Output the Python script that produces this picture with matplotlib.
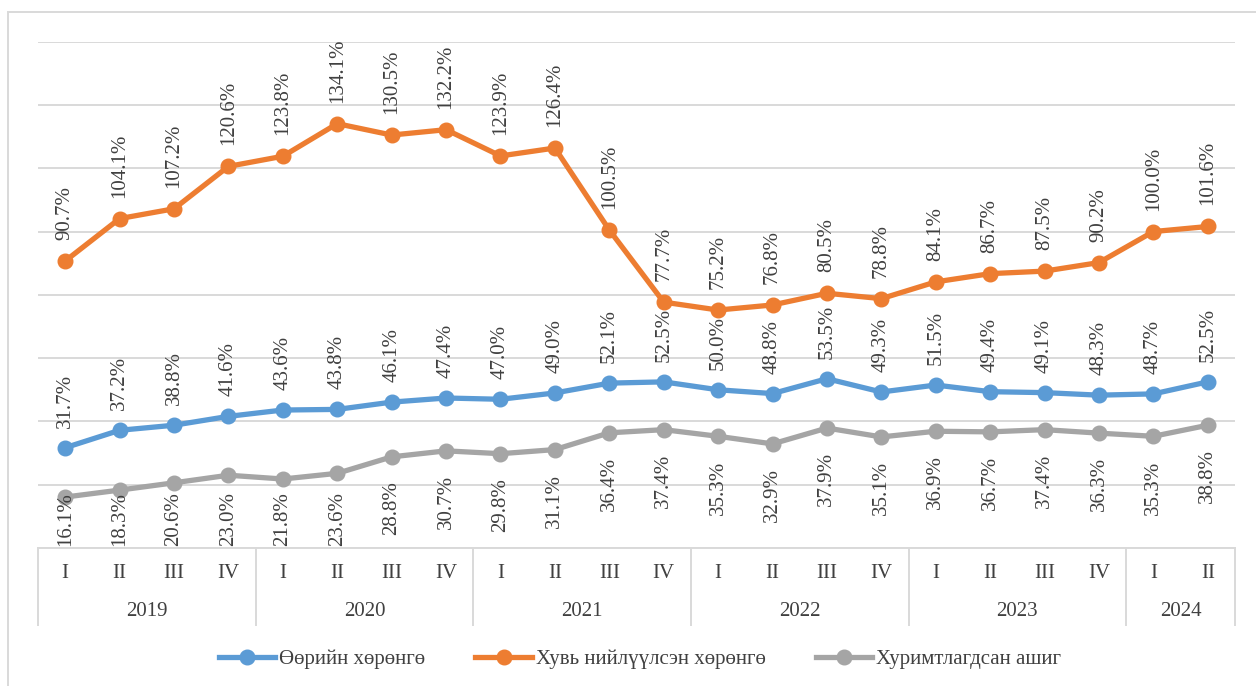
import matplotlib
matplotlib.use("Agg")
import matplotlib.pyplot as plt
from matplotlib.lines import Line2D
from matplotlib.patches import Rectangle

plt.rcParams['font.family'] = ['Liberation Serif', 'DejaVu Serif']

years = ['2019', '2020', '2021', '2022', '2023', '2024']
year_quarters = [4, 4, 4, 4, 4, 2]
quarter_names = ['I', 'II', 'III', 'IV']
quarters = [q for n in year_quarters for q in quarter_names[:n]]

own_capital = [31.7, 37.2, 38.8, 41.6, 43.6, 43.8, 46.1, 47.4, 47.0, 49.0, 52.1,
               52.5, 50.0, 48.8, 53.5, 49.3, 51.5, 49.4, 49.1, 48.3, 48.7, 52.5]
paid_in = [90.7, 104.1, 107.2, 120.6, 123.8, 134.1, 130.5, 132.2, 123.9, 126.4, 100.5,
           77.7, 75.2, 76.8, 80.5, 78.8, 84.1, 86.7, 87.5, 90.2, 100.0, 101.6]
retained = [16.1, 18.3, 20.6, 23.0, 21.8, 23.6, 28.8, 30.7, 29.8, 31.1, 36.4,
            37.4, 35.3, 32.9, 37.9, 35.1, 36.9, 36.7, 37.4, 36.3, 35.3, 38.8]

series_names = ['Өөрийн хөрөнгө', 'Хувь нийлүүлсэн хөрөнгө', 'Хуримтлагдсан ашиг']
colors = ['#5B9BD5', '#ED7D31', '#A5A5A5']
text_color = '#404040'
grid_color = '#D9D9D9'

W, H = 1256, 686
fig = plt.figure(figsize=(W / 100, H / 100), dpi=100)
ax_left, ax_right, ax_top, ax_bot = 38, 1235, 41.7, 548
ax = fig.add_axes([ax_left / W, 1 - ax_bot / H, (ax_right - ax_left) / W, (ax_bot - ax_top) / H])

n = len(quarters)
x = list(range(n))
ax.set_xlim(-0.5, n - 0.5)
ax.set_ylim(0, 160)
ax.set_yticks(range(0, 161, 20))
ax.grid(axis='y', color=grid_color, linewidth=1.4)
ax.set_axisbelow(True)
for s in ax.spines.values():
    s.set_visible(False)
ax.tick_params(left=False, bottom=False, labelleft=False, labelbottom=False)

px_per_unit = (ax_bot - ax_top) / 160.0
label_fs = 15
lab_len_units = 56 / px_per_unit

for vals, col in zip([own_capital, paid_in, retained], colors):
    ax.plot(x, vals, color=col, linewidth=3.8, marker='o', markersize=10.5,
            solid_capstyle='round', zorder=3)

for xi, v in zip(x, paid_in):
    ax.text(xi, v + 21 / px_per_unit, f'{v:.1f}%', rotation=90, ha='center', va='bottom',
            fontsize=label_fs, color=text_color, clip_on=False)
for xi, v in zip(x, own_capital):
    ax.text(xi, v + 20 / px_per_unit, f'{v:.1f}%', rotation=90, ha='center', va='bottom',
            fontsize=label_fs, color=text_color)
for xi, v in zip(x, retained):
    top = max(v - 24 / px_per_unit, lab_len_units)
    ax.text(xi, top, f'{v:.1f}%', rotation=90, ha='center', va='top',
            fontsize=label_fs, color=text_color)

# category axis (two levels)
trans = ax.get_xaxis_transform()
ax_h = ax_bot - ax_top
ax.plot([-0.5, n - 0.5], [0, 0], transform=trans, color=grid_color, linewidth=1.4, clip_on=False)
bounds = [-0.5]
for cnt in year_quarters:
    bounds.append(bounds[-1] + cnt)
line_bottom = -(625 - ax_bot) / ax_h
for b in bounds:
    ax.plot([b, b], [0, line_bottom], transform=trans, color=grid_color, linewidth=1.4, clip_on=False)
q_y = -(573 - ax_bot) / ax_h
for xi, q in zip(x, quarters):
    ax.text(xi, q_y, q, transform=trans, ha='center', va='center', fontsize=label_fs, color=text_color)
y_y = -(612 - ax_bot) / ax_h
for i, yr in enumerate(years):
    ax.text((bounds[i] + bounds[i + 1]) / 2, y_y, yr, transform=trans, ha='center', va='center',
            fontsize=label_fs, color=text_color)

# chart border
fig.patches.append(Rectangle((8 / W, -0.05), 1.1, 1 - 12 / H + 0.05, transform=fig.transFigure,
                             fill=False, edgecolor=grid_color, linewidth=1.4))

handles = [Line2D([0], [0], color=c, linewidth=3.8, marker='o', markersize=10.5) for c in colors]
fig.legend(handles, series_names, loc='center', bbox_to_anchor=(640 / W, 1 - 659 / H), ncol=3,
           frameon=False, fontsize=label_fs, handlelength=2.7, handletextpad=0.2,
           columnspacing=2.4, labelcolor=text_color)

fig.savefig('out.png', dpi=100)
